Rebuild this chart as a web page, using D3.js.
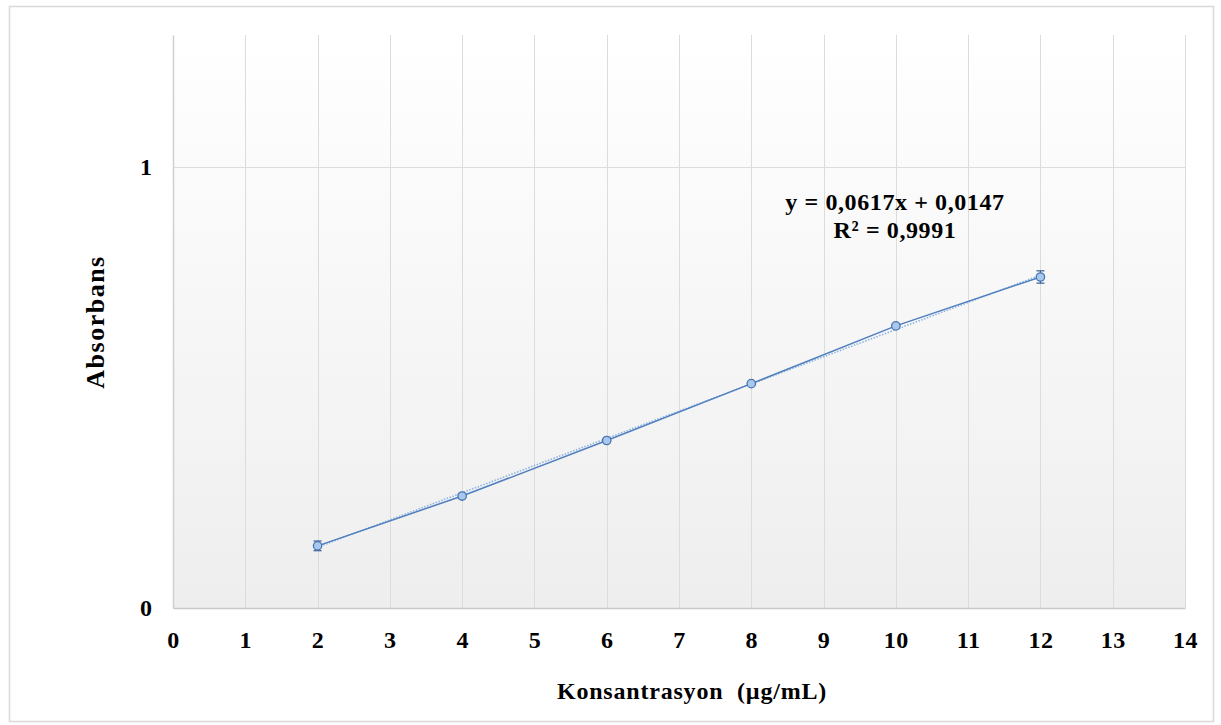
<!DOCTYPE html>
<html>
<head>
<meta charset="utf-8">
<script src="https://cdn.jsdelivr.net/npm/d3@7"></script>
<style>
  html, body { margin: 0; padding: 0; background: #fff; }
  svg text { font-family: "Liberation Serif", "DejaVu Serif", serif; font-weight: bold; fill: #000; }
</style>
</head>
<body>
<svg id="chart" width="1221" height="725"></svg>
<script>
// Calibration data: concentration (µg/mL) vs absorbance
const concentrations = [2, 4, 6, 8, 10, 12];
const absorbance     = [0.141, 0.254, 0.380, 0.509, 0.640, 0.751];
const errors         = [0.011, 0.005, 0.004, 0.004, 0.005, 0.014];

// Linear fit reported on the chart
const slope = 0.0617;
const intercept = 0.0147;
const equationLines = ["y = 0,0617x + 0,0147", "R² = 0,9991"];

const xTicks = d3.range(0, 15);
const yTicks = [0, 1];
const xTitle = "Konsantrasyon  (µg/mL)";
const yTitle = "Absorbans";

const svg = d3.select("#chart");
const m = { left: 173, right: 1185, top: 35, bottom: 608 };

const x = d3.scaleLinear().domain([0, 14]).range([m.left, m.right]);
const y = d3.scaleLinear().domain([0, 1.3]).range([m.bottom, m.top]);

// Chart frame
svg.append("rect")
  .attr("x", 9.5).attr("y", 6.5)
  .attr("width", 1204).attr("height", 715)
  .attr("fill", "#fff").attr("stroke", "#d9d9d9").attr("stroke-width", 1.5);

// Plot area gradient fill
const defs = svg.append("defs");
const grad = defs.append("linearGradient").attr("id", "plotBg")
  .attr("x1", 0).attr("y1", 0).attr("x2", 0).attr("y2", 1);
grad.append("stop").attr("offset", "0%").attr("stop-color", "#ffffff");
grad.append("stop").attr("offset", "100%").attr("stop-color", "#eeeeee");

svg.append("rect")
  .attr("x", m.left).attr("y", m.top)
  .attr("width", m.right - m.left).attr("height", m.bottom - m.top)
  .attr("fill", "url(#plotBg)");

// Gridlines
const grid = svg.append("g").attr("stroke", "#dcdcdc").attr("stroke-width", 1);
grid.selectAll("line.v").data(xTicks.slice(1)).join("line")
  .attr("x1", d => Math.round(x(d)) + 0.5).attr("x2", d => Math.round(x(d)) + 0.5)
  .attr("y1", m.top).attr("y2", m.bottom);
grid.selectAll("line.h").data(yTicks.slice(1)).join("line")
  .attr("x1", m.left).attr("x2", m.right)
  .attr("y1", d => Math.round(y(d)) + 0.5).attr("y2", d => Math.round(y(d)) + 0.5);

// Axes
const xAxis = svg.append("g")
  .attr("transform", `translate(0,${m.bottom})`)
  .call(d3.axisBottom(x).tickValues(xTicks).tickSize(0).tickPadding(23).tickFormat(d3.format("d")));
xAxis.select(".domain").attr("stroke", "#c8c8c8").attr("stroke-width", 1.5);
xAxis.selectAll("text").style("font-size", "24px").style("letter-spacing", "0.5px").attr("dy", "0.71em");

const yAxis = svg.append("g")
  .attr("transform", `translate(${m.left},0)`)
  .call(d3.axisLeft(y).tickValues(yTicks).tickSize(0).tickPadding(21).tickFormat(d3.format("d")));
yAxis.select(".domain").attr("stroke", "#d0d0d0").attr("stroke-width", 1.5);
yAxis.selectAll("text").style("font-size", "24px");

// Axis titles
svg.append("text")
  .attr("x", 692).attr("y", 699)
  .attr("text-anchor", "middle")
  .style("font-size", "24px")
  .style("letter-spacing", "0.8px")
  .style("white-space", "pre")
  .attr("xml:space", "preserve")
  .text(xTitle);

svg.append("text")
  .attr("transform", "translate(104,322) rotate(-90)")
  .attr("text-anchor", "middle")
  .style("font-size", "26px")
  .style("letter-spacing", "1.5px")
  .text(yTitle);

// Trendline (dotted)
const [tx0, tx1] = d3.extent(concentrations);
svg.append("line")
  .attr("x1", x(tx0)).attr("y1", y(slope * tx0 + intercept))
  .attr("x2", x(tx1)).attr("y2", y(slope * tx1 + intercept))
  .attr("stroke", "#8db3e2").attr("stroke-width", 1.6)
  .attr("stroke-dasharray", "1.5,1.5");

// Data line
const pts = concentrations.map((c, i) => ({ c, a: absorbance[i], e: errors[i] }));
svg.append("path")
  .datum(pts)
  .attr("fill", "none")
  .attr("stroke", "#4f7fbe")
  .attr("stroke-width", 1.5)
  .attr("d", d3.line().x(d => x(d.c)).y(d => y(d.a)));

// Error bars
const eb = svg.append("g").attr("stroke", "#3a5f8f").attr("stroke-width", 1.2);
eb.selectAll("line.bar").data(pts).join("line")
  .attr("x1", d => x(d.c)).attr("x2", d => x(d.c))
  .attr("y1", d => y(d.a + d.e)).attr("y2", d => y(d.a - d.e));
eb.selectAll("line.capT").data(pts).join("line")
  .attr("x1", d => x(d.c) - 4).attr("x2", d => x(d.c) + 4)
  .attr("y1", d => y(d.a + d.e)).attr("y2", d => y(d.a + d.e));
eb.selectAll("line.capB").data(pts).join("line")
  .attr("x1", d => x(d.c) - 4).attr("x2", d => x(d.c) + 4)
  .attr("y1", d => y(d.a - d.e)).attr("y2", d => y(d.a - d.e));

// Markers
svg.append("g").selectAll("circle").data(pts).join("circle")
  .attr("cx", d => x(d.c)).attr("cy", d => y(d.a))
  .attr("r", 4.2)
  .attr("fill", "#a9c8ee")
  .attr("stroke", "#4a76b0").attr("stroke-width", 1.3);

// Regression equation label
const eq = svg.append("text")
  .attr("x", 895).attr("y", 210)
  .attr("text-anchor", "middle")
  .style("font-size", "24px")
  .style("letter-spacing", "0.6px");
eq.selectAll("tspan").data(equationLines).join("tspan")
  .attr("x", 895)
  .attr("dy", (d, i) => i === 0 ? 0 : 28)
  .text(d => d);
</script>
</body>
</html>
